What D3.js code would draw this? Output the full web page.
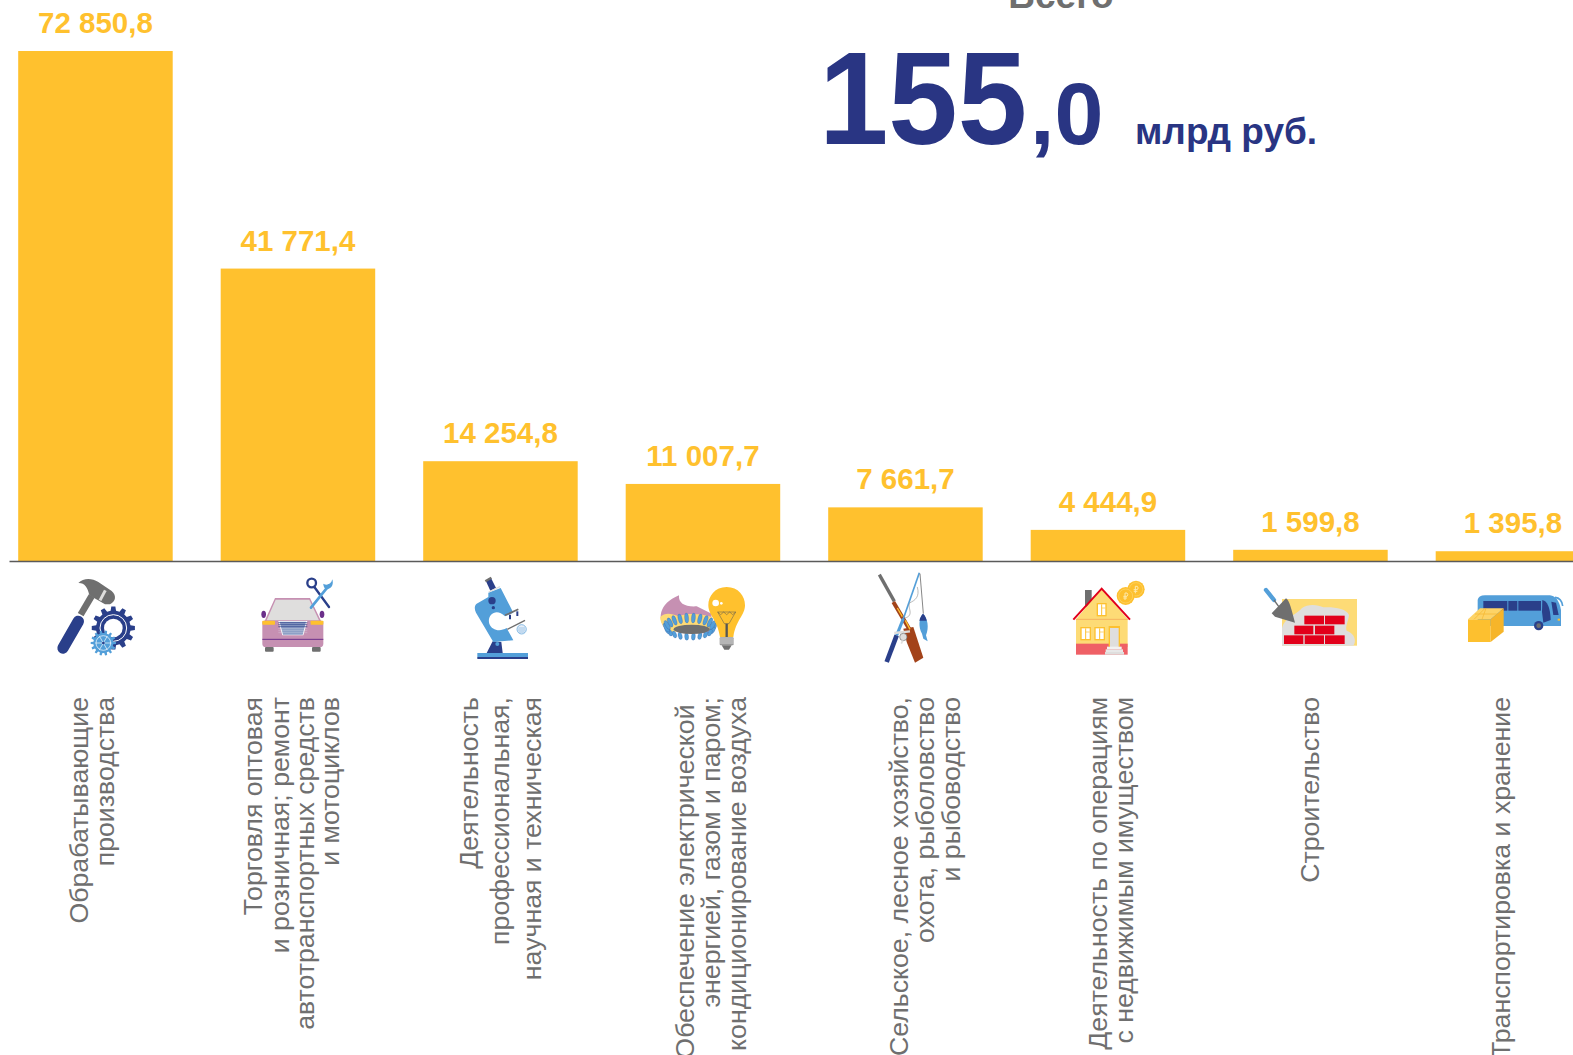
<!DOCTYPE html>
<html lang="ru"><head><meta charset="utf-8">
<script src="https://cdnjs.cloudflare.com/ajax/libs/d3/7.9.0/d3.min.js"></script>
<style>html,body{margin:0;padding:0;background:#fff;overflow:hidden}svg{display:block}text{font-family:"Liberation Sans",Arial,sans-serif}</style>
</head><body><svg id="c" width="1573" height="1055"></svg>
<script>
const categories = ["Обрабатывающие производства","Торговля оптовая и розничная","Деятельность профессиональная","Обеспечение электроэнергией","Сельское хозяйство","Операции с недвижимостью","Строительство","Транспортировка и хранение"];
const values = [72850.8, 41771.4, 14254.8, 11007.7, 7661.7, 4444.9, 1599.8, 1395.8];
const labelLines = [
 ["Обрабатывающие","производства"],
 ["Торговля оптовая","и розничная; ремонт","автотранспортных средств","и мотоциклов"],
 ["Деятельность","профессиональная,","научная и техническая"],
 ["Обеспечение электрической ","энергией, газом и паром;","кондиционирование воздуха"],
 ["Сельское, лесное хозяйство,","охота, рыболовство","и рыбоводство"],
 ["Деятельность по операциям","с недвижимым имуществом"],
 ["Строительство"],
 ["Транспортировка и хранение"]
];
const labelOffsets = [[-17,9],[-45,-18,7,32],[-32,-1,31],[-18,8,34],[-7,19,45],[-10,16],[-1],[-12]];
const totalTitle = "Всего", totalInt = "155", totalDec = ",0", totalUnit = "млрд руб.";

const YELLOW="#ffc12e", NAVY="#2a3f8a", BLUE="#539fd9", GRAY="#6f6f6f", LIGHT="#dfdedd", PALE="#fddb76", RED="#e2001a", BROWN="#a3431a", PINK="#c690b2", PURPLE="#6b2f8a";
const svg = d3.select("#c");
const baseY = 561;
const x = d3.scaleBand().domain(categories).range([-5.8,1614.2]).paddingInner(0.237).paddingOuter(0.1185);
const y = d3.scaleLinear().domain([0,72850.8]).range([baseY,51]);
const fmt = d3.formatLocale({decimal:",",thousands:" ",grouping:[3],currency:["",""]}).format(",.1f");
const rows = categories.map((c,i)=>({c,v:values[i],lines:labelLines[i],off:labelOffsets[i]}));

svg.selectAll("rect.bar").data(rows).join("rect").attr("class","bar")
  .attr("x",d=>x(d.c)).attr("width",x.bandwidth()).attr("y",d=>y(d.v)).attr("height",d=>baseY-y(d.v)).attr("fill",YELLOW);
svg.append("line").attr("x1",9.5).attr("x2",1573).attr("y1",baseY+.5).attr("y2",baseY+.5).attr("stroke","#5a5a5a").attr("stroke-width",1.3);
svg.selectAll("text.val").data(rows).join("text").attr("class","val")
  .attr("x",d=>x(d.c)+x.bandwidth()/2).attr("y",d=>y(d.v)-18).attr("text-anchor","middle")
  .attr("font-weight","bold").attr("font-size",29.5).attr("fill",YELLOW).text(d=>fmt(d.v));

const lab = svg.selectAll("g.lab").data(rows).join("g").attr("class","lab")
  .attr("transform",d=>`translate(${x(d.c)+x.bandwidth()/2},697)`);
lab.selectAll("text").data(d=>d.lines.map((t,i)=>({t,o:d.off[i]}))).join("text")
  .attr("transform",d=>`translate(${d.o},0) rotate(-90)`).attr("dy","0.35em").attr("text-anchor","end")
  .attr("font-size",26.7).attr("fill",GRAY).style("white-space","pre").text(d=>d.t);

// total
svg.append("text").attr("x",1061).attr("y",8).attr("text-anchor","middle").attr("font-weight","bold").attr("font-size",37).attr("fill",GRAY).text(totalTitle);
svg.append("text").attr("transform","translate(819,144) scale(0.945,1)").attr("font-weight","bold").attr("font-size",132).attr("fill","#293583").text(totalInt);
svg.append("text").attr("x",1030).attr("y",144).attr("font-weight","bold").attr("font-size",88).attr("fill","#293583").text(totalDec);
svg.append("text").attr("x",1135).attr("y",144).attr("font-weight","bold").attr("font-size",37).attr("fill","#293583").text(totalUnit);

// pictograms (decoration), drawn in 3x crop coordinates
function icon(ox,oy){return svg.append("g").attr("transform",`translate(${ox},${oy}) scale(${1/3})`);}
const L=(g,a,b,c,d,col,w,cap)=>g.append("line").attr("x1",a).attr("y1",b).attr("x2",c).attr("y2",d).attr("stroke",col).attr("stroke-width",w).attr("stroke-linecap",cap||"butt");
const P=(g,dd,fill,st,sw)=>g.append("path").attr("d",dd).attr("fill",fill||"none").attr("stroke",st||"none").attr("stroke-width",sw||0);
const C=(g,cx,cy,r,fill,st,sw)=>g.append("circle").attr("cx",cx).attr("cy",cy).attr("r",r).attr("fill",fill||"none").attr("stroke",st||"none").attr("stroke-width",sw||0);
const R=(g,a,b,w,h,fill,rx)=>g.append("rect").attr("x",a).attr("y",b).attr("width",w).attr("height",h).attr("fill",fill).attr("rx",rx||0);
function gear(cx,cy,Ro,Ri,n){let d="";const s=Math.PI*2/n;for(let i=0;i<n;i++){const a=i*s;const pts=[[a-s*.3,Ri],[a-s*.18,Ro],[a+s*.18,Ro],[a+s*.3,Ri]];pts.forEach((p,j)=>{d+=(i===0&&j===0?"M":"L")+(cx+p[1]*Math.cos(p[0])).toFixed(1)+","+(cy+p[1]*Math.sin(p[0])).toFixed(1);});}return d+"Z";}

// 1 hammer & gears
{const g=icon(50,572);
 L(g,92,128,125,72,GRAY,20);
 L(g,39,228,85,148,NAVY,34,"round");
 P(g,"M85,33C100,18 125,18 145,30L185,57C200,70 198,88 180,97L165,97L118,70C113,45 103,32 85,33Z",GRAY);
 L(g,166,55,150,85,LIGHT,9);
 P(g,gear(190,168,65,52,12),NAVY);
 C(g,190,168,28,"#fff");C(g,190,168,40,"none","#fff",3);
 P(g,gear(160,213,38,30,14),BLUE);
 C(g,160,213,22,"none","#fff",2);
 for(let i=0;i<3;i++){const a=i*Math.PI/3;L(g,160-24*Math.cos(a),213-24*Math.sin(a),160+24*Math.cos(a),213+24*Math.sin(a),"#fff",2);}
 C(g,160,213,4,NAVY);
}
// 2 car & tools
{const g=icon(255,572);
 g.append("ellipse").attr("cx",26).attr("cy",127).attr("rx",7).attr("ry",11).attr("fill",PURPLE);
 g.append("ellipse").attr("cx",201).attr("cy",127).attr("rx",7).attr("ry",11).attr("fill",PURPLE);
 P(g,"M60,78L165,78L197,145L205,150L205,215Q205,225 195,225L32,225Q22,225 22,215L22,150L30,145Z",PINK);
 P(g,"M62,83L163,83L192,145L35,145Z",LIGHT);
 R(g,22,146,38,12,YELLOW,2);R(g,167,146,38,12,YELLOW,2);
 P(g,"M70,147L157,147L145,190L82,190Z","#fff");
 P(g,"M74,149L153,149L143,188L84,188Z","#8b9cc4");
 [152,158,164,170,176,182].forEach((yy,i)=>L(g,70,yy,157,yy,i<3?NAVY:"#dfe3ee",i<3?2:1));
 L(g,22,202,205,202,PURPLE,3);
 R(g,30,225,26,14,GRAY,3);R(g,171,225,26,14,GRAY,3);
 L(g,178,45,222,105,NAVY,7,"round");
 C(g,170,33,13,"#fff",NAVY,7);
 L(g,168,107,222,40,BLUE,8,"round");
 P(g,"M205,35C215,42 228,38 232,22C236,35 232,48 218,52C208,52 205,42 205,35Z",BLUE);
}
// 3 microscope
{const g=icon(460,572);
 P(g,"M78,28L93,18L108,48L91,56Z",NAVY);
 L(g,76,28,94,17,GRAY,7);
 R(g,52,243,152,13,BLUE);R(g,52,255,152,6,NAVY);
 P(g,"M80,243L98,208L124,210L128,243Z",NAVY);
 P(g,"M50,95L85,75L85,62L122,48L160,122L135,133C108,105 80,130 88,155C95,175 120,180 140,168L160,205L100,210L48,122C42,110 44,100 50,95Z",BLUE);
 L(g,86,60,120,44,LIGHT,4);
 C(g,112,216,6,BLUE);
 C(g,96,86,11,NAVY);C(g,100,107,5,NAVY);
 L(g,135,130,175,112,GRAY,5);
 L(g,150,128,150,142,NAVY,6);L(g,172,118,172,132,NAVY,6);
 P(g,"M142,172L195,145L200,165L158,190Z","#fff");
 L(g,142,172,195,145,GRAY,4);
 C(g,185,172,14,"#e7eef7",BLUE,2);
 L(g,175,168,195,168,BLUE,1.5);L(g,174,174,196,174,BLUE,1.5);L(g,176,180,194,180,BLUE,1.5);
}
// 4 burner & bulb
{const g=icon(655,572);
 P(g,"M72,70C70,95 90,105 125,103L170,125L165,185L35,175C5,145 10,95 72,70Z",PINK);
 P(g,"M16,135C30,120 50,125 70,132C100,122 140,125 170,135L170,175L45,180C25,170 15,150 16,135Z",PALE);
 for(let i=0;i<22;i++){const a=i/22*Math.PI*2;const cx=105+68*Math.cos(a),cy=172+28*Math.sin(a);
  g.append("ellipse").attr("cx",cx).attr("cy",cy-6).attr("rx",6).attr("ry",i>0&&i<11?11:15).attr("fill",BLUE).attr("stroke",NAVY).attr("stroke-width",.6).attr("transform",`rotate(${(cx-105)*.45} ${cx} ${cy})`);}
 g.append("ellipse").attr("cx",110).attr("cy",172).attr("rx",54).attr("ry",14).attr("fill",GRAY);
 P(g,"M215,45C250,45 270,72 270,100C270,130 242,145 235,195L195,195C188,145 160,130 160,100C160,72 180,45 215,45Z",YELLOW);
 C(g,182,93,10,"#fff");C(g,199,94,4,"#fff");
 P(g,"M188,120L242,120L222,155L208,155Z","none","#555",1.5);
 P(g,"M188,120L197,128L206,120L215,128L224,120L233,128L242,120","none","#555",1.5);
 L(g,215,155,215,195,"#555",7);
 R(g,194,196,42,24,"#999",3);
 [201,207,213].forEach(yy=>L(g,194,yy,236,yy,"#eee",2));
 P(g,"M200,220L230,220L222,233L208,233Z",GRAY);
}
// 5 gun & rod
{const g=icon(860,572);
 L(g,58,8,103,88,GRAY,10);
 L(g,100,90,150,175,BROWN,12);
 P(g,"M130,170L160,165L190,257L165,272L140,210Z",BROWN);
 L(g,112,108,127,134,YELLOW,4);L(g,136,145,150,172,YELLOW,4);
 L(g,178,2,130,140,BLUE,5);
 L(g,130,140,110,190,BLUE,9);
 L(g,110,190,80,270,NAVY,14);
 L(g,103,183,150,178,LIGHT,7);
 C(g,130,195,11,LIGHT,GRAY,2);
 L(g,128,205,124,215,LIGHT,5);
 P(g,"M172,45C180,75 165,85 150,92C140,105 165,130 135,138","none","#999",2);
 L(g,180,5,190,125,GRAY,2.5);
 P(g,"M189,125C203,140 208,165 198,190L203,208L190,200L186,185C175,165 176,140 189,125Z",BLUE);
 P(g,"M189,125C196,130 199,140 200,146L178,146C180,136 184,130 189,125Z",NAVY);
}
// 6 house & coins
{const g=icon(1065,572);
 R(g,60,54,20,50,GRAY);
 P(g,"M33,142L110,50L188,142L188,225L33,225Z",PALE);
 L(g,33,142,188,142,"#f6b45e",3);
 R(g,33,215,155,33,"#ef6066");
 P(g,"M25,143L110,50L195,143","none",RED,6);
 [[95,93,30,40],[46,165,32,40],[88,165,32,40]].forEach(b=>{R(g,b[0],b[1],b[2],b[3],"#fdc02f");R(g,b[0]+4,b[1]+4,b[2]-8,b[3]-8,"#fff");L(g,b[0]+b[2]/2,b[1]+4,b[0]+b[2]/2,b[1]+b[3]-4,"#fdc02f",3);L(g,b[0]+b[2]/2,b[1]+15,b[0]+b[2]-4,b[1]+15,"#fdc02f",2);});
 R(g,131,162,34,62,"#fdc02f");R(g,135,168,26,57,LIGHT);
 R(g,126,224,44,8,"#f2f2f2");R(g,122,232,52,8,"#e8e8e8");R(g,120,240,57,8,LIGHT);
 [[213,52,26],[182,72,27]].forEach(c=>{C(g,c[0],c[1],c[2],"#fdc02f");C(g,c[0],c[1],c[2]-6,"none","#fdd66e",2);
  P(g,`M${c[0]-2},${c[1]+12}L${c[0]-2},${c[1]-9}L${c[0]+4},${c[1]-9}Q${c[0]+9},${c[1]-4} ${c[0]+4},${c[1]+1}L${c[0]-7},${c[1]+1}M${c[0]-7},${c[1]+6}L${c[0]+4},${c[1]+6}`,"none","#fde9ad",3);});
}
// 7 bricks, 8 bus
{const g=icon(1160,500);
 R(g,366,297,225,140,PALE);
 P(g,"M366,437L366,385C375,350 410,345 425,325C445,310 475,315 490,322C520,320 560,325 567,345C565,365 555,380 560,392C585,400 590,425 580,437Z",LIGHT);
 [[433,347,59],[495,347,59],[403,377,57],[465,377,58],[372,406,58],[434,406,58],[495,406,59]].forEach(b=>R(g,b[0],b[1],b[2],26,RED));
 L(g,318,270,342,300,BLUE,13,"round");
 L(g,342,300,358,322,GRAY,4);
 P(g,"M335,340L378,295C388,300 395,330 405,368L345,350Z",GRAY);
 // bus
 P(g,"M953,378L953,300Q955,286 975,286L1170,286Q1195,288 1203,330L1203,378Z",BLUE);
 P(g,"M1185,292Q1205,294 1208,318","none",BLUE,5);
 R(g,970,303,72,29,NAVY);R(g,1045,303,27,29,NAVY);R(g,1075,303,68,29,NAVY);
 P(g,"M1147,300Q1170,305 1172,360L1150,368L1146,335Z",NAVY);
 P(g,"M1174,305L1188,308L1196,345L1180,345Z",NAVY);
 C(g,1136,377,14,NAVY);C(g,1136,377,7,GRAY);
 R(g,1193,356,7,6,"#fdc02f");
 P(g,"M924,358L960,325L1031,325L992,358Z","#fdd366");
 R(g,924,358,68,68,"#fdc02f");
 P(g,"M992,358L1031,325L1031,395L992,426Z","#f6b52a");
 L(g,942,358,975,325,"#f6b52a",2);L(g,945,342,1012,342,"#f6b52a",2);L(g,978,325,966,358,"#f6b52a",2);
}
</script></body></html>
